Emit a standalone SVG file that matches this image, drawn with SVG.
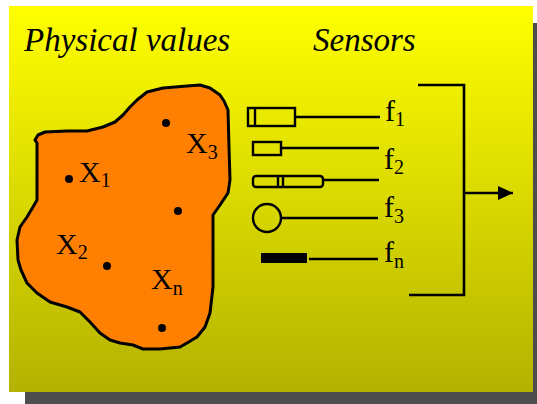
<svg xmlns="http://www.w3.org/2000/svg" width="537" height="404" viewBox="0 0 537 404">
  <defs>
    <linearGradient id="panelFill" x1="0" y1="0" x2="0" y2="1">
      <stop offset="0" stop-color="#ffff00"/>
      <stop offset="1" stop-color="#b4b200"/>
    </linearGradient>
    <marker id="arrowHead" viewBox="0 0 15 14" refX="15" refY="7" markerWidth="15" markerHeight="14" markerUnits="userSpaceOnUse" orient="auto">
      <path d="M0,0 L15,7 L0,14 Z" fill="#000"/>
    </marker>
  </defs>
  <style>
    .title { font-family: "Liberation Serif", "Times New Roman", serif; font-style: italic; font-size: 33px; fill: #000; }
    .lbl { font-family: "Liberation Serif", "Times New Roman", serif; font-size: 30px; fill: #000; }
    .sub { font-size: 20px; }
    .ln { stroke: #000; stroke-width: 2.6; fill: none; }
    .box { stroke: #000; stroke-width: 2.4; fill: none; }
    .dot { fill: #000; }
  </style>

  <!-- background and drop shadow -->
  <rect x="0" y="0" width="537" height="404" fill="#ffffff"/>
  <rect x="25" y="23" width="524" height="386" fill="#4d4d4d"/>
  <rect x="9" y="6" width="524" height="386" fill="url(#panelFill)"/>

  <!-- headings -->
  <text class="title" x="24" y="51">Physical values</text>
  <text class="title" x="313" y="51">Sensors</text>

  <!-- measured region -->
  <g id="region">
    <path d="M137,100 L147,92 L163,88 L187,86 L200,85 L210,88 L220,95 L224,101 L228,110 L229,147 L230,180 L228,193 L220,205 L213,215 L213,230 L213,287 L210,313 L205,327 L197,337 L187,343 L180,347 L160,349 L143,349 L133,345 L120,343 L110,340 L100,333 L90,322 L80,312 L67,307 L50,302 L37,293 L27,283 L21,270 L18,260 L17,240 L20,227 L27,217 L33,207 L37,200 L37,187 L37,143 L35,140 L38,135 L45,132 L67,131 L87,131 L103,127 L115,122 L123,115 L130,107 Z" fill="#ff8000" stroke="#000" stroke-width="3" stroke-linejoin="round"/>
    <circle class="dot" cx="166" cy="123" r="4"/>
    <circle class="dot" cx="69" cy="179" r="4"/>
    <circle class="dot" cx="178" cy="211" r="4"/>
    <circle class="dot" cx="107" cy="266" r="4"/>
    <circle class="dot" cx="162" cy="328" r="4"/>
  </g>

  <g id="x1"><text class="lbl" x="79" y="182">X<tspan class="sub" dy="5">1</tspan></text></g>
  <g id="x3"><text class="lbl" x="186" y="153">X<tspan class="sub" dy="6">3</tspan></text></g>
  <g id="x2"><text class="lbl" x="56" y="254">X<tspan class="sub" dy="5">2</tspan></text></g>
  <g id="xn"><text class="lbl" x="151" y="289">X<tspan class="sub" dy="6">n</tspan></text></g>

  <!-- sensors -->
  <g id="sensor1">
    <rect class="box" x="248" y="108" width="47" height="18"/>
    <line class="box" x1="255" y1="108" x2="255" y2="127"/>
    <text class="lbl" x="385" y="121">f<tspan class="sub" dy="5">1</tspan></text>
  </g>
  <g id="sensor2">
    <rect class="box" x="253" y="142" width="28" height="13"/>
    <text class="lbl" x="384" y="169">f<tspan class="sub" dy="5">2</tspan></text>
  </g>
  <g id="sensor3">
    <rect class="box" x="253" y="176" width="70" height="11" rx="3"/>
    <line class="box" x1="278" y1="176" x2="278" y2="187"/>
    <line class="box" x1="283" y1="176" x2="283" y2="187"/>
  </g>
  <g id="sensor4">
    <circle class="box" cx="267" cy="218" r="14"/>
    <text class="lbl" x="384" y="217">f<tspan class="sub" dy="6">3</tspan></text>
  </g>
  <g id="sensorN">
    <rect x="261" y="253" width="46" height="10" fill="#000"/>
    <text class="lbl" x="384" y="262">f<tspan class="sub" dy="6">n</tspan></text>
  </g>

  <!-- connectors -->
  <g id="connectors">
    <line class="ln" x1="295" y1="117" x2="380" y2="117"/>
    <line class="ln" x1="281" y1="148" x2="379" y2="148"/>
    <line class="ln" x1="323" y1="180" x2="379" y2="180"/>
    <line class="ln" x1="281" y1="218" x2="378" y2="218"/>
    <line class="ln" x1="309" y1="259" x2="378" y2="259"/>
    <path class="ln" d="M418,85 H464 V295 H409" stroke-width="3"/>
    <line class="ln" x1="464" y1="193" x2="513" y2="193" stroke-width="3" marker-end="url(#arrowHead)"/>
  </g>
</svg>
